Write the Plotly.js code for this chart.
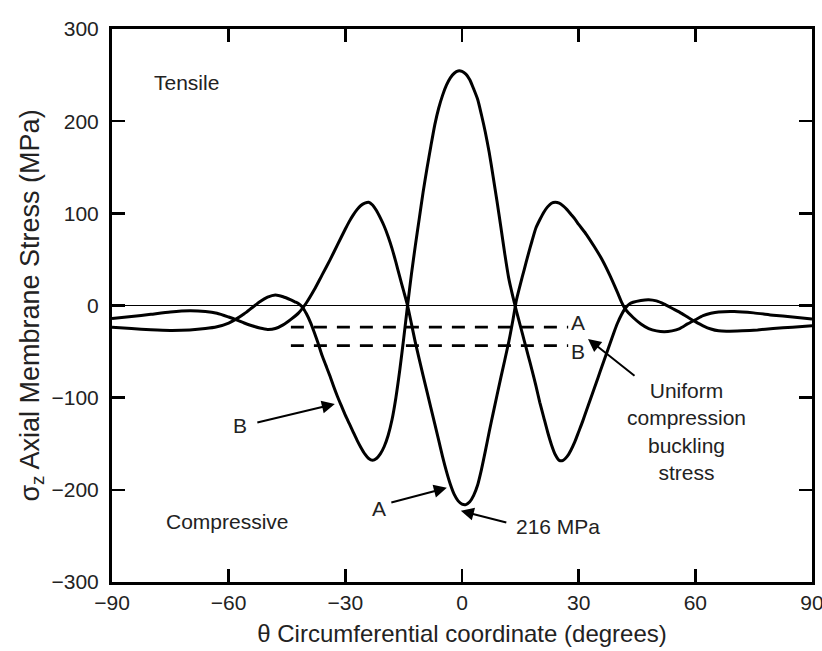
<!DOCTYPE html>
<html>
<head>
<meta charset="utf-8">
<script src="https://cdn.plot.ly/plotly-3.0.1.min.js"></script>
<style>html,body{margin:0;padding:0;background:#fff;}#chart{width:822px;height:651px;}</style>
</head>
<body>
<div id="chart"></div>
<script>
// Curve A (min -216 MPa at centre)
const thetaA = [-90,-85,-80,-75,-70,-66,-63,-60,-58,-56,-54,-52,-50,-48,-46,-44,-42,-40,-38,-36,-34,-32,-30,-29,-28,-27,-26,-25,-24,-23,-22,-21,-20,-19,-18,-17,-16,-15,-14,-12,-10,-8,-6,-5,-4,-3,-2,-1,0,1,2,3,4,5,6,7,8,10,12,13,14,15,16,17,18,19,20,21,22,23,24,25,26,27,28,29,30,32,34,36,38,40,41,42,44,46,48,50,52,54,56,58,60,62,64,66,70,75,80,85,90];
const stressA = [-14,-12,-9.5,-7,-5.7,-6.5,-8.5,-12.5,-15.5,-19,-22,-24.5,-26,-25,-21,-15,-8,3,17,33,49,66,83,91,98,104,108.5,111,112,109,103,95,86,75,62,47,31,15.5,0,-40,-76,-111,-146,-164,-180,-194,-205,-212,-215.5,-216,-213,-206,-195,-178,-158,-137,-117,-78,-40,-18,6,23,39,55,70,84,93,101,107,111,112,111,108,104,99,94,88,77,64,50,33,14,4,-4,-13,-20,-25,-27.5,-28.4,-27.5,-25,-20,-15.5,-11,-8.5,-7,-6.5,-8,-10.5,-12.5,-14.6];
// Curve B (max ~255 MPa at centre)
const thetaB = [-90,-85,-80,-75,-70,-66,-63,-60,-58,-56,-54,-52,-50,-48,-46,-44,-43,-42,-41,-40,-39,-38,-37,-36,-35,-34,-33,-32,-31,-30,-29,-28,-27,-26,-25,-24,-23,-22,-21,-20,-19,-18,-17,-16,-15,-14,-13,-12,-11,-10,-9,-8,-7,-6,-5,-4,-3,-2,-1,0,1,2,3,4,5,6,7,8,9,10,11,12,13,14,15,16,17,18,19,20,21,22,23,24,25,26,27,28,29,30,31,32,33,34,35,36,37,38,39,40,41,42,43,44,46,48,50,52,54,56,58,60,62,64,66,68,72,76,80,85,90];
const stressB = [-23.6,-25,-26.3,-27,-26.5,-25,-23,-19,-14.5,-9,-2.5,4,9,11.4,9.5,6,4,2,-2,-9,-18,-29,-41,-54,-65,-76,-88,-99,-109,-119,-128,-137,-146,-154,-161,-166,-168,-166,-161,-153,-141,-124,-100,-70,-36,0,34,65,94,123,149,173,196,214,228,239,247,252,254.5,254,251,245,235,224,207,188,166,140,113,85,56,30,11,-6,-22,-38,-54,-70,-87,-105,-121,-137,-151,-162,-168,-168,-164,-157,-148,-137,-126,-114,-102,-90,-78,-66,-54,-42,-30,-19,-10,-3,1.5,3.5,5.5,6.3,5,1.5,-3,-7.4,-12.5,-17.5,-22,-25.5,-27.5,-28,-27.5,-26.5,-25,-23.5,-22];
// Uniform compression buckling stress levels
const bucklingTheta = [-44, 27.3];
const bucklingA = [-23.5, -23.5];
const bucklingB = [-43.5, -43.5];
const xTicks = [-90,-60,-30,0,30,60,90];
const yTicks = [-300,-200,-100,0,100,200,300];

const FONT = 'Liberation Sans, Arial, Helvetica, sans-serif';
const lineStyle = {color:'#000', width:3, shape:'spline', smoothing:0.6};

const traces = [
  {x: thetaA, y: stressA, mode:'lines', line: lineStyle, name:'A', hoverinfo:'skip'},
  {x: thetaB, y: stressB, mode:'lines', line: lineStyle, name:'B', hoverinfo:'skip'},
  {x: bucklingTheta, y: bucklingA, mode:'lines', line:{color:'#000', width:2.8, dash:'13px,10px'}, hoverinfo:'skip'},
  {x: bucklingTheta, y: bucklingB, mode:'lines', line:{color:'#000', width:2.8, dash:'13px,10px'}, hoverinfo:'skip'}
];

const txt = (x, y, text, extra) => Object.assign({x, y, xref:'x', yref:'y', text, showarrow:false, font:{family:FONT, size:21, color:'#222'}}, extra||{});
const arr = (x, y, ax, ay) => ({x, y, xref:'x', yref:'y', text:'', showarrow:true, arrowhead:2, arrowsize:1.3, arrowwidth:2, arrowcolor:'#000', ax, ay, standoff:0, startstandoff:0});

const layout = {
  width: 822, height: 651,
  margin: {l:112, r:10, t:29, b:69},
  paper_bgcolor:'#fff', plot_bgcolor:'#fff',
  showlegend:false,
  font:{family:FONT, size:21, color:'#222'},
  xaxis: {
    range:[-90,90], tickvals:xTicks, ticks:'inside', ticklen:13, tickwidth:2.5, tickcolor:'#000',
    showline:true, linewidth:3, linecolor:'#000', mirror:'ticks', showgrid:false, zeroline:false,
    tickfont:{family:FONT, size:21, color:'#222'}, ticklabelstandoff:0, ticklabeloverflow:'allow',
    title:{text:'θ Circumferential coordinate (degrees)', font:{family:FONT, size:24, color:'#222'}, standoff:12}
  },
  yaxis: {
    range:[-300,300], tickvals:yTicks, ticks:'inside', ticklen:13, tickwidth:2.5, tickcolor:'#000',
    showline:true, linewidth:3, linecolor:'#000', mirror:'ticks', showgrid:false,
    zeroline:true, zerolinecolor:'#000', zerolinewidth:1.6,
    tickfont:{family:FONT, size:21, color:'#222'}, ticklabelstandoff:6, ticklabeloverflow:'allow',
    title:{text:'σ<sub>z</sub> Axial Membrane Stress (MPa)', font:{family:FONT, size:27, color:'#222'}, standoff:5}
  },
  annotations: [
    txt(-70.8, 242, 'Tensile'),
    txt(-60.4, -234.7, 'Compressive'),
    txt(-57.1, -130.6, 'B'),
    arr(-32.7, -106.8, -79, 19),
    txt(-21.3, -220.6, 'A'),
    arr(-3.9, -197.8, -57, 15),
    txt(24.7, -240, '216 MPa'),
    arr(-0.3, -222.8, 47, 12),
    txt(29.8, -17.9, 'A'),
    txt(29.8, -50.4, 'B'),
    txt(57.85, -137, 'Uniform<br>compression<br>buckling<br>stress'),
    arr(32.4, -36.3, 48, 38)
  ]
};

Plotly.newPlot('chart', traces, layout, {staticPlot:true, displayModeBar:false});
</script>
</body>
</html>
